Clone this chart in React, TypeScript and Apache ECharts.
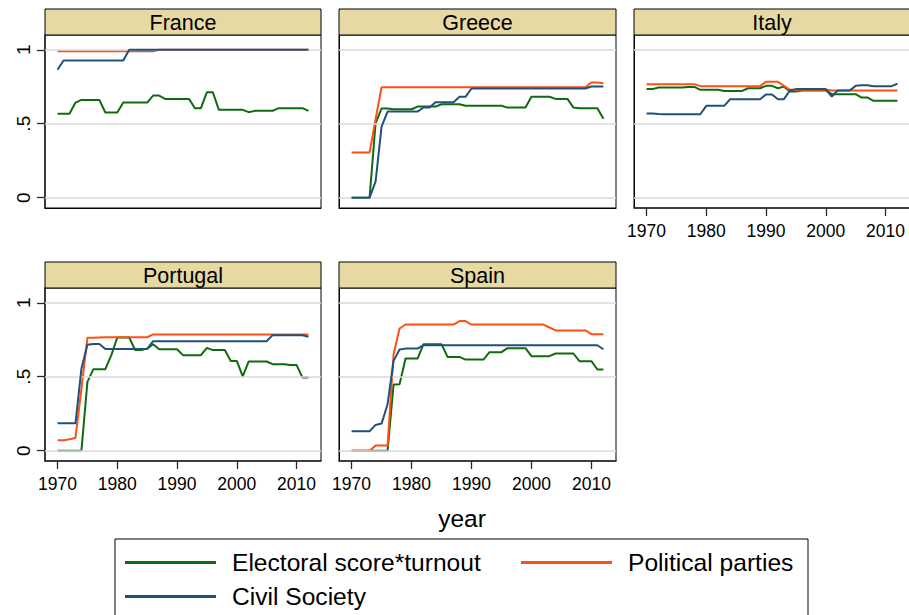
import React, { useEffect, useRef } from "react";
import * as echarts from "echarts";

const years = [
  1970, 1971, 1972, 1973, 1974, 1975, 1976, 1977, 1978, 1979,
  1980, 1981, 1982, 1983, 1984, 1985, 1986, 1987, 1988, 1989,
  1990, 1991, 1992, 1993, 1994, 1995, 1996, 1997, 1998, 1999,
  2000, 2001, 2002, 2003, 2004, 2005, 2006, 2007, 2008, 2009,
  2010, 2011, 2012,
];

const seriesNames = ["Electoral score*turnout", "Political parties", "Civil Society"];
const seriesColors = ["#0f6b0f", "#ff4f14", "#22507c"];
const xTicks = [1970, 1980, 1990, 2000, 2010];
const xTickLabels = ["1970", "1980", "1990", "2000", "2010"];
const yTicks = [0, 0.5, 1];
const yTickLabels = ["0", ".5", "1"];
const xTitle = "year";

// France
const franceElectoral = [
  0.567, 0.567, 0.567, 0.643, 0.661, 0.661, 0.661, 0.661, 0.576, 0.576,
  0.576, 0.643, 0.643, 0.643, 0.643, 0.643, 0.69, 0.69, 0.668, 0.668,
  0.668, 0.668, 0.668, 0.605, 0.605, 0.713, 0.713, 0.594, 0.594, 0.594,
  0.594, 0.594, 0.578, 0.587, 0.587, 0.587, 0.587, 0.605, 0.605, 0.605,
  0.605, 0.605, 0.587,
];
const franceParties = [
  0.99, 0.99, 0.99, 0.99, 0.99, 0.99, 0.99, 0.99, 0.99, 0.99,
  0.99, 0.99, 0.99, 0.99, 0.99, 0.99, 0.99, 1, 1, 1,
  1, 1, 1, 1, 1, 1, 1, 1, 1, 1,
  1, 1, 1, 1, 1, 1, 1, 1, 1, 1,
  1, 1, 1,
];
const franceCivil = [
  0.865, 0.928, 0.928, 0.928, 0.928, 0.928, 0.928, 0.928, 0.928, 0.928,
  0.928, 0.928, 1, 1, 1, 1, 1, 1, 1, 1,
  1, 1, 1, 1, 1, 1, 1, 1, 1, 1,
  1, 1, 1, 1, 1, 1, 1, 1, 1, 1,
  1, 1, 1,
];

// Greece
const greeceElectoral = [
  0, 0, 0, 0, 0.503, 0.603, 0.603, 0.598, 0.598, 0.598,
  0.598, 0.616, 0.616, 0.616, 0.616, 0.632, 0.632, 0.632, 0.632, 0.621,
  0.621, 0.621, 0.621, 0.621, 0.621, 0.621, 0.609, 0.609, 0.609, 0.609,
  0.682, 0.682, 0.682, 0.682, 0.668, 0.668, 0.668, 0.609, 0.605, 0.605,
  0.605, 0.605, 0.533,
];
const greeceParties = [
  0.305, 0.305, 0.305, 0.305, 0.53, 0.747, 0.747, 0.747, 0.747, 0.747,
  0.747, 0.747, 0.747, 0.747, 0.747, 0.747, 0.747, 0.747, 0.747, 0.747,
  0.747, 0.747, 0.747, 0.747, 0.747, 0.747, 0.747, 0.747, 0.747, 0.747,
  0.747, 0.747, 0.747, 0.747, 0.747, 0.747, 0.747, 0.747, 0.747, 0.747,
  0.779, 0.779, 0.774,
];
const greeceCivil = [
  0, 0, 0, 0, 0.108, 0.48, 0.582, 0.582, 0.582, 0.582,
  0.582, 0.582, 0.61, 0.61, 0.646, 0.646, 0.646, 0.646, 0.682, 0.682,
  0.738, 0.738, 0.738, 0.738, 0.738, 0.738, 0.738, 0.738, 0.738, 0.738,
  0.738, 0.738, 0.738, 0.738, 0.738, 0.738, 0.738, 0.738, 0.738, 0.738,
  0.752, 0.752, 0.752,
];

// Italy
const italyElectoral = [
  0.734, 0.734, 0.745, 0.745, 0.745, 0.745, 0.745, 0.749, 0.749, 0.729,
  0.729, 0.729, 0.729, 0.722, 0.722, 0.722, 0.722, 0.74, 0.74, 0.74,
  0.756, 0.756, 0.74, 0.751, 0.718, 0.718, 0.725, 0.725, 0.725, 0.725,
  0.725, 0.7, 0.7, 0.7, 0.7, 0.7, 0.677, 0.677, 0.655, 0.655,
  0.655, 0.655, 0.655,
];
const italyParties = [
  0.767, 0.767, 0.767, 0.767, 0.767, 0.767, 0.767, 0.767, 0.767, 0.754,
  0.754, 0.754, 0.754, 0.754, 0.754, 0.754, 0.754, 0.754, 0.754, 0.754,
  0.783, 0.783, 0.783, 0.757, 0.729, 0.729, 0.729, 0.729, 0.729, 0.729,
  0.729, 0.725, 0.725, 0.725, 0.725, 0.725, 0.725, 0.725, 0.725, 0.725,
  0.725, 0.725, 0.725,
];
const italyCivil = [
  0.569, 0.569, 0.566, 0.564, 0.564, 0.564, 0.564, 0.564, 0.564, 0.564,
  0.621, 0.621, 0.621, 0.621, 0.666, 0.666, 0.666, 0.666, 0.666, 0.666,
  0.698, 0.698, 0.666, 0.666, 0.725, 0.734, 0.734, 0.734, 0.734, 0.734,
  0.734, 0.684, 0.725, 0.725, 0.725, 0.756, 0.76, 0.76, 0.754, 0.754,
  0.754, 0.754, 0.77,
];

// Portugal
const portugalElectoral = [
  0, 0, 0, 0, 0, 0.465, 0.551, 0.551, 0.551, 0.646,
  0.765, 0.765, 0.765, 0.68, 0.68, 0.69, 0.72, 0.686, 0.686, 0.686,
  0.686, 0.646, 0.646, 0.646, 0.646, 0.695, 0.68, 0.68, 0.68, 0.607,
  0.607, 0.503, 0.603, 0.603, 0.603, 0.603, 0.585, 0.585, 0.585, 0.58,
  0.58, 0.494, 0.494,
];
const portugalParties = [
  0.07, 0.07, 0.077, 0.086, 0.42, 0.763, 0.763, 0.765, 0.767, 0.767,
  0.767, 0.767, 0.767, 0.767, 0.767, 0.767, 0.786, 0.786, 0.786, 0.786,
  0.786, 0.786, 0.786, 0.786, 0.786, 0.786, 0.786, 0.786, 0.786, 0.786,
  0.786, 0.786, 0.786, 0.786, 0.786, 0.786, 0.786, 0.786, 0.786, 0.786,
  0.786, 0.786, 0.786,
];
const portugalCivil = [
  0.185, 0.185, 0.185, 0.185, 0.555, 0.716, 0.722, 0.722, 0.688, 0.688,
  0.688, 0.688, 0.688, 0.688, 0.688, 0.688, 0.74, 0.74, 0.74, 0.74,
  0.74, 0.74, 0.74, 0.74, 0.74, 0.74, 0.74, 0.74, 0.74, 0.74,
  0.74, 0.74, 0.74, 0.74, 0.74, 0.74, 0.781, 0.781, 0.781, 0.781,
  0.781, 0.781, 0.77,
];

// Spain
const spainElectoral = [
  0, 0, 0, 0, 0, 0, 0, 0.447, 0.449, 0.623,
  0.623, 0.623, 0.72, 0.72, 0.72, 0.72, 0.634, 0.634, 0.634, 0.616,
  0.616, 0.616, 0.616, 0.666, 0.666, 0.666, 0.693, 0.693, 0.693, 0.693,
  0.639, 0.639, 0.639, 0.639, 0.657, 0.657, 0.657, 0.657, 0.605, 0.605,
  0.605, 0.549, 0.549,
];
const spainParties = [
  0, 0, 0, 0, 0.034, 0.034, 0.034, 0.652, 0.826, 0.853,
  0.853, 0.853, 0.853, 0.853, 0.853, 0.853, 0.853, 0.853, 0.876, 0.876,
  0.853, 0.853, 0.853, 0.853, 0.853, 0.853, 0.853, 0.853, 0.853, 0.853,
  0.853, 0.853, 0.853, 0.833, 0.813, 0.813, 0.813, 0.813, 0.813, 0.813,
  0.788, 0.788, 0.788,
];
const spainCivil = [
  0.131, 0.131, 0.131, 0.131, 0.174, 0.183, 0.314, 0.607, 0.684, 0.69,
  0.69, 0.69, 0.713, 0.713, 0.713, 0.713, 0.713, 0.713, 0.713, 0.713,
  0.713, 0.713, 0.713, 0.713, 0.713, 0.713, 0.713, 0.713, 0.713, 0.713,
  0.713, 0.713, 0.713, 0.713, 0.713, 0.713, 0.713, 0.713, 0.713, 0.713,
  0.713, 0.713, 0.686,
];

const countries = ["France", "Greece", "Italy", "Portugal", "Spain"];
const countryData = [
  [franceElectoral, franceParties, franceCivil],
  [greeceElectoral, greeceParties, greeceCivil],
  [italyElectoral, italyParties, italyCivil],
  [portugalElectoral, portugalParties, portugalCivil],
  [spainElectoral, spainParties, spainCivil],
];

// layout
const FONT = "'Liberation Sans', Arial, Helvetica, sans-serif";
const colLeft = [45, 339, 634];
const colWidth = [276, 277, 276];
const rowTop = [35, 288];
const plotH = 173;
const stripH = 26;
const panelPos = [
  { col: 0, row: 0, yLab: true, xLab: false },
  { col: 1, row: 0, yLab: false, xLab: false },
  { col: 2, row: 0, yLab: false, xLab: true },
  { col: 0, row: 1, yLab: true, xLab: true },
  { col: 1, row: 1, yLab: false, xLab: true },
];

export default function App() {
  const ref = useRef<HTMLDivElement>(null);
  useEffect(() => {
    if (!ref.current) return;
    const chart = echarts.init(ref.current, undefined, { renderer: "svg" });

    const grid = panelPos.map((p) => ({
      left: colLeft[p.col],
      top: rowTop[p.row],
      width: colWidth[p.col],
      height: plotH,
      show: true,
      borderColor: "#000",
      borderWidth: 1,
      backgroundColor: "#fff",
      containLabel: false,
      outerBoundsMode: "none",
    }));

    const axisColor = "#2a2a2a";
    const xAxis = panelPos.map((p, i) => ({
      type: "value",
      gridIndex: i,
      min: 1967.9,
      max: 2014.1,
      axisLine: {
        show: true,
        onZero: false,
        lineStyle: { color: p.xLab ? axisColor : "#000", width: p.xLab ? 1.6 : 1 },
      },
      axisTick: {
        show: p.xLab,
        customValues: xTicks,
        length: 8,
        lineStyle: { color: axisColor, width: 1.3 },
      },
      axisLabel: {
        show: p.xLab,
        customValues: xTicks,
        margin: 14,
        fontSize: 17.5,
        color: "#000",
        fontFamily: FONT,
        formatter: (v: number) => {
          const k = xTicks.indexOf(v);
          return k >= 0 ? xTickLabels[k] : String(v);
        },
      },
      splitLine: { show: false },
    }));

    const yAxis = panelPos.map((p, i) => ({
      type: "value",
      gridIndex: i,
      min: -0.07,
      max: 1.1,
      axisLine: {
        show: true,
        onZero: false,
        lineStyle: { color: p.yLab ? axisColor : "#000", width: p.yLab ? 1.6 : 1 },
      },
      axisTick: {
        show: p.yLab,
        customValues: yTicks,
        length: 8,
        lineStyle: { color: axisColor, width: 1.3 },
      },
      axisLabel: {
        show: p.yLab,
        customValues: yTicks,
        rotate: 90,
        margin: 12,
        fontSize: 19,
        color: "#000",
        fontFamily: FONT,
        formatter: (v: number) => {
          const k = yTicks.indexOf(v);
          return k >= 0 ? yTickLabels[k] : String(v);
        },
      },
      splitLine: { show: false },
    }));

    const series: any[] = [];
    countries.forEach((c, i) => {
      series.push({
        type: "line",
        xAxisIndex: i,
        yAxisIndex: i,
        data: [],
        silent: true,
        z: 1,
        markLine: {
          silent: true,
          symbol: ["none", "none"],
          label: { show: false },
          lineStyle: { color: "#dadada", width: 1.5, type: "solid" },
          data: yTicks.map((v) => ({ yAxis: v })),
        },
      });
      countryData[i].forEach((arr, s) => {
        series.push({
          type: "line",
          name: seriesNames[s],
          xAxisIndex: i,
          yAxisIndex: i,
          data: years.map((y, k) => [y, arr[k]]),
          showSymbol: false,
          symbol: "none",
          z: 3 + s,
          lineStyle: { color: seriesColors[s], width: 2 },
          itemStyle: { color: seriesColors[s] },
        });
      });
    });

    const graphic: any[] = [];
    panelPos.forEach((p, i) => {
      const x = colLeft[p.col];
      const w = colWidth[p.col];
      const top = rowTop[p.row] - stripH;
      graphic.push({
        type: "rect",
        shape: { x, y: top, width: w, height: stripH },
        style: { fill: "#e6d9a3", stroke: "#000", lineWidth: 1 },
        z: 10,
      });
      graphic.push({
        type: "text",
        x: x + w / 2,
        y: top + stripH / 2 + 1,
        style: {
          text: countries[i],
          fontSize: 21.5,
          fontFamily: FONT,
          fill: "#000",
          align: "center",
          verticalAlign: "middle",
        },
        z: 11,
      });
    });
    graphic.push({
      type: "text",
      x: 462,
      y: 518,
      style: {
        text: xTitle,
        fontSize: 24.5,
        fontFamily: FONT,
        fill: "#000",
        align: "center",
        verticalAlign: "middle",
      },
    });
    graphic.push({
      type: "rect",
      shape: { x: 115, y: 539, width: 693, height: 100 },
      style: { fill: "none", stroke: "#000", lineWidth: 1 },
    });

    const legendBase = {
      orient: "horizontal",
      icon: "rect",
      itemWidth: 91,
      itemHeight: 3,
      padding: 0,
      selectedMode: false,
      textStyle: {
        fontSize: 24.6,
        fontFamily: FONT,
        color: "#000",
        padding: [0, 0, 0, 11],
      },
    };
    const legend = [
      { ...legendBase, data: [seriesNames[0]], left: 125, top: 550 },
      { ...legendBase, data: [seriesNames[1]], left: 521, top: 550 },
      { ...legendBase, data: [seriesNames[2]], left: 125, top: 584 },
    ];

    chart.setOption({
      animation: false,
      backgroundColor: "#fff",
      grid,
      xAxis,
      yAxis,
      series,
      legend,
      graphic,
    });
    return () => chart.dispose();
  }, []);
  return (
    <div
      ref={ref}
      style={{ position: "fixed", left: 0, top: 0, width: 909, height: 615, background: "#fff" }}
    />
  );
}
